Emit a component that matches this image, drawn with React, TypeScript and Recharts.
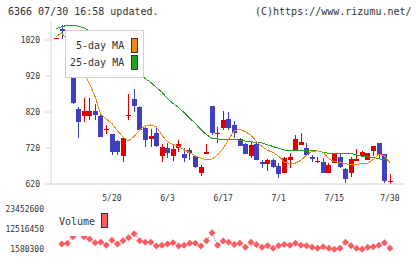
import { ComposedChart, Bar, Line, XAxis, YAxis } from "recharts";

// daily candles, oldest first
const openP = [1024, 1050, 991, 988, 828, 810, 810, 823, 809, 772, 759, 740, 699, 810, 855, 835, 776, 745, 762, 699, 719, 699, 721, 703, 714, 698, 650, 702, 837, 758, 775, 800, 784, 744, 730, 699, 731, 682, 675, 687, 670, 651, 687, 714, 728, 719, 696, 683, 681, 651, 679, 694, 661, 650, 685, 699, 687, 712, 735, 703, 628];
const highP = [1025, 1062, 1008, 990, 833, 858, 858, 841, 816, 785, 760, 741, 749, 870, 884, 836, 777, 773, 779, 731, 735, 728, 742, 719, 721, 701, 673, 731, 837, 779, 823, 819, 795, 749, 733, 737, 737, 687, 689, 689, 677, 696, 705, 756, 762, 733, 700, 694, 691, 677, 703, 703, 665, 694, 717, 712, 707, 726, 735, 703, 648];
const lowP = [1024, 1022, 983, 843, 747, 791, 798, 798, 750, 758, 700, 700, 682, 798, 821, 769, 723, 724, 724, 682, 691, 684, 710, 682, 687, 664, 642, 702, 755, 735, 770, 770, 747, 726, 702, 693, 687, 665, 657, 665, 636, 651, 664, 714, 728, 700, 682, 677, 651, 651, 679, 664, 622, 640, 684, 699, 687, 699, 691, 622, 620];
const closeP = [1025, 1046, 992, 844, 793, 822, 822, 812, 750, 773, 710, 710, 749, 811, 837, 770, 742, 754, 726, 724, 705, 716, 731, 693, 707, 668, 666, 710, 762, 762, 798, 775, 761, 726, 702, 728, 687, 675, 687, 668, 647, 691, 696, 745, 737, 700, 689, 684, 651, 673, 703, 668, 634, 689, 689, 708, 707, 726, 701, 628, 629];

const ma5 = [1030, 1040, 1018, 985, 950, 925, 898, 862, 814, 800, 788, 768, 750, 740, 752, 770, 782, 784, 779, 756, 737, 730, 724, 715, 707, 698, 692, 688, 689, 701, 718, 745, 768, 772, 765, 756, 738, 724, 714, 707, 697, 681, 677, 678, 686, 700, 711, 712, 708, 690, 682, 680, 676, 674, 674, 677, 678, 688, 703, 698, 680];
const ma25 = [1052, 1057, 1061, 1061, 1058, 1053, 1046, 1036, 1024, 1010, 996, 982, 966, 951, 937, 924, 913, 902, 888, 875, 857, 844, 832, 818, 803, 788, 772, 757, 747, 745, 745, 744, 743, 742, 739, 737, 736, 734, 729, 724, 719, 714, 714, 714, 713, 713, 712, 712, 708, 705, 705, 705, 705, 705, 701, 697, 695, 694, 690, 688, 682];

const volume = [null, 4270000, 4650000, 8300000, 16000000, 8300000, 7000000, 4970000, 5200000, 3700000, 6400000, 4300000, 6050000, 7700000, 9800000, 6050000, 5200000, 5200000, 3200000, 3700000, 4300000, 4970000, 3200000, 3700000, 4650000, 4650000, 3200000, 6050000, 10400000, 3700000, 5900000, 5200000, 4100000, 4650000, 2500000, 5200000, 4100000, 2500000, 3360000, 1960000, 3360000, 4100000, 3700000, 4650000, 3700000, 3360000, 2500000, 1960000, 2820000, 1960000, 1400000, 1960000, 5200000, 3360000, 1960000, 1400000, 2500000, 2820000, 3700000, 4970000, 1960000];

const dateTicks = [10, 20, 30, 40, 50, 60];
const dateLabels = ["5/20", "6/3", "6/17", "7/1", "7/15", "7/30"];
const priceTicks = [620, 720, 820, 920, 1020];
const volumeTicks = [1580300, 12516450, 23452600];

const Y_MIN = 620;
const Y_MAX = 1070;
const X_DOMAIN: [number, number] = [-0.95, 62.71];
const gridTicks = Array.from({ length: 12 }, (_, k) => X_DOMAIN[0] + (k * (X_DOMAIN[1] - X_DOMAIN[0])) / 11);

const RED = "#dd0000";
const BLUE = "#3f3fbf";
const ORANGE = "#ee8a14";
const GREEN = "#1ca51c";
const VOL = "#fb5c62";
const AXIS = "#d4d4d4";
const FONT = "'DejaVu Sans Mono', monospace";

const rows = openP.map((o, i) => ({
  i,
  o,
  h: highP[i],
  l: lowP[i],
  c: closeP[i],
  ma5: ma5[i],
  ma25: ma25[i],
  v: volume[i],
}));

function Candle(props: any) {
  const { x, y, width, height, payload } = props;
  if (payload == null || !height) return <g />;
  const bottom = y + height;
  const k = height / (payload.h - Y_MIN);
  const py = (v: number) => bottom - (v - Y_MIN) * k;
  const cx = Math.round(x + width / 2) + 0.5;
  const color = payload.c >= payload.o ? RED : BLUE;
  const top = py(Math.max(payload.o, payload.c));
  const bot = py(Math.min(payload.o, payload.c));
  return (
    <g shapeRendering="crispEdges">
      <line x1={cx} x2={cx} y1={py(payload.h)} y2={py(payload.l)} stroke={color} strokeWidth={1} />
      <rect x={cx - 2.5} y={top} width={5} height={Math.max(1, bot - top)} fill={color} />
    </g>
  );
}

function Diamond(props: any) {
  const { cx, cy } = props;
  if (cx == null || cy == null || props.value == null) return <g key={props.key} />;
  return (
    <polygon
      key={props.key}
      points={`${cx},${cy - 3.5} ${cx + 3.5},${cy} ${cx},${cy + 3.5} ${cx - 3.5},${cy}`}
      fill={VOL}
    />
  );
}

const tickStyle = { fontSize: 8, fill: "#333", fontFamily: FONT };

export default function App() {
  return (
    <div
      style={{
        position: "absolute",
        left: 0,
        top: 0,
        width: 420,
        height: 259,
        background: "#fff",
        overflow: "hidden",
        fontFamily: FONT,
        color: "#333",
      }}
    >
      <div style={{ position: "absolute", left: 8, top: 5, fontSize: 10, lineHeight: "14px" }}>
        6366 07/30 16:58 updated.
      </div>
      <div style={{ position: "absolute", left: 255, top: 5, fontSize: 10, lineHeight: "14px" }}>
        (C)https://www.rizumu.net/
      </div>

      <div style={{ position: "absolute", left: 0, top: 0 }}>
        <ComposedChart width={420} height={190} data={rows} margin={{ top: 22, right: 15, bottom: 0, left: 0 }}>
          <XAxis
            dataKey="i"
            type="number"
            domain={X_DOMAIN}
            ticks={gridTicks}
            interval={0}
            height={6}
            tick={false}
            tickSize={6}
            stroke={AXIS}
            allowDataOverflow
          />
          <YAxis
            type="number"
            domain={[Y_MIN, Y_MAX]}
            ticks={priceTicks}
            interval={0}
            width={51}
            tickSize={6}
            tickMargin={5}
            stroke={AXIS}
            tick={tickStyle}
            allowDataOverflow
          />
          <Bar dataKey={(d: any) => [Y_MIN, d.h]} barSize={5} shape={(p: any) => <Candle {...p} />} isAnimationActive={false} />
          <Line dataKey="ma25" stroke={GREEN} strokeWidth={1} dot={false} type="linear" shapeRendering="crispEdges" isAnimationActive={false} />
          <Line dataKey="ma5" stroke={ORANGE} strokeWidth={1} dot={false} type="linear" shapeRendering="crispEdges" isAnimationActive={false} />
        </ComposedChart>
      </div>

      <div style={{ position: "absolute", left: 0, top: 190 }}>
        <ComposedChart width={420} height={69} data={rows} margin={{ top: 0, right: 15, bottom: 3, left: 0 }}>
          <XAxis
            dataKey="i"
            type="number"
            orientation="top"
            domain={X_DOMAIN}
            ticks={dateTicks}
            interval={0}
            height={14}
            axisLine={false}
            tickLine={false}
            tickSize={0}
            tickMargin={3}
            tick={tickStyle}
            tickFormatter={(v: number) => dateLabels[dateTicks.indexOf(v)] ?? ""}
            allowDataOverflow
          />
          <YAxis
            type="number"
            domain={[-2190600, 25984500]}
            ticks={volumeTicks}
            interval={0}
            width={51}
            axisLine={false}
            tickLine={false}
            tickSize={0}
            tickMargin={7}
            tick={tickStyle}
            allowDataOverflow
          />
          <Line
            dataKey="v"
            stroke={VOL}
            strokeWidth={1}
            strokeDasharray="1 1"
            dot={(p: any) => <Diamond {...p} />}
            type="linear"
            isAnimationActive={false}
          />
        </ComposedChart>
      </div>

      <div
        style={{
          position: "absolute",
          left: 65,
          top: 30,
          width: 77,
          height: 46,
          border: "1px solid #cfcfcf",
          background: "#fff",
          fontSize: 10,
          overflow: "hidden",
        }}
      >
        <div style={{ position: "absolute", left: 10, top: 9, lineHeight: "12px" }}>5-day MA</div>
        <div style={{ position: "absolute", left: 4, top: 26, lineHeight: "12px" }}>25-day MA</div>
        <div style={{ position: "absolute", left: 65, top: 7, width: 5, height: 13, background: ORANGE, border: "1px solid #333" }} />
        <div style={{ position: "absolute", left: 65, top: 24, width: 5, height: 13, background: GREEN, border: "1px solid #333" }} />
      </div>

      <div style={{ position: "absolute", left: 54, top: 205, width: 58, height: 31, background: "#fff", fontSize: 10 }}>
        <div style={{ position: "absolute", left: 5, top: 11, lineHeight: "12px" }}>Volume</div>
        <div style={{ position: "absolute", left: 47, top: 8, width: 5, height: 13, background: VOL, border: "1px solid #333" }} />
      </div>
    </div>
  );
}
